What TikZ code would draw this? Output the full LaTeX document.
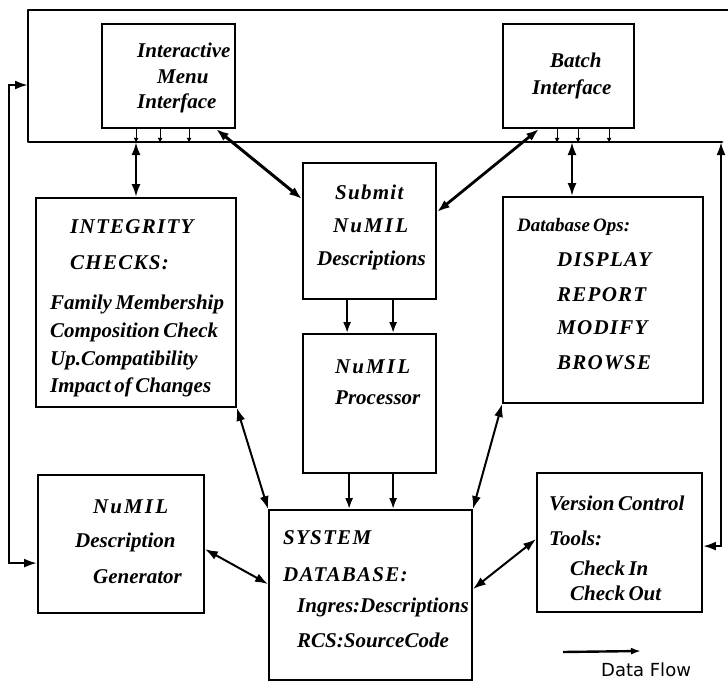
\documentclass[tikz,border=0pt]{standalone}
\usepackage{fontspec}
\setmainfont{Liberation Serif}
\newfontfamily\handfont{DejaVu Sans}
\usetikzlibrary{arrows.meta,calc}

\begin{document}
\begin{tikzpicture}[x=1pt,y=-1pt,
  box/.style={draw, line width=1.8pt, inner sep=0pt},
  txt/.style={font=\fontsize{21}{23}\selectfont\bfseries\itshape, anchor=west, inner sep=0pt},
  caps/.style={txt, font=\fontsize{21}{23}\selectfont\bfseries\itshape\addfontfeature{LetterSpace=6}},
  wide/.style={txt, font=\fontsize{21}{23}\selectfont\bfseries\itshape\addfontfeature{LetterSpace=10}},
  small/.style={txt, font=\fontsize{19}{21}\selectfont\bfseries\itshape},
  flow/.style={line width=2.4pt, {Latex[length=13pt,width=9pt]}-{Latex[length=13pt,width=9pt]}},
  oneway/.style={line width=2pt, -{Latex[length=11pt,width=8pt]}},
  tick/.style={line width=1.2pt, -{Latex[length=5pt,width=5pt]}},
  frameline/.style={line width=2.8pt, line cap=round, line join=round}
]
\useasboundingbox (0,0) rectangle (728,682);
\fill[white] (0,0) rectangle (728,682);

% the user-interface layer
\coordinate (ftr) at (728,10);
\coordinate (ftl) at (28,10);
\coordinate (fbl) at (28,142);
\coordinate (fbr) at (722,142);
\draw[frameline] (ftr) -- (ftl) -- (fbl) -- (fbr);

% boxes
\node[box, minimum width=133pt, minimum height=104pt] (imi)    at (168.5,76)  {};
\node[box, minimum width=131pt, minimum height=104pt] (batch)  at (568.5,76)  {};
\node[box, minimum width=200pt, minimum height=209pt] (integ)  at (136,302.5) {};
\node[box, minimum width=133pt, minimum height=136pt] (submit) at (369.5,231) {};
\node[box, minimum width=133pt, minimum height=139pt] (proc)   at (369.5,403.5) {};
\node[box, minimum width=200pt, minimum height=206pt] (dbops)  at (603,300) {};
\node[box, minimum width=166pt, minimum height=138pt] (gen)    at (121,544) {};
\node[box, minimum width=203pt, minimum height=170pt] (sysdb)  at (370.5,595) {};
\node[box, minimum width=165pt, minimum height=139pt] (vc)     at (619.5,542.5) {};

% box texts
\node[txt] (imi1) at (137,50)  {Interactive};
\node[txt] (imi2) at (157,77)  {Menu};
\node[txt] (imi3) at (137,103) {Interface};

\node[txt] (bat1) at (550,60) {Batch};
\node[txt] (bat2) at (532,89) {Interface};

\node[caps] (int1) at (70,227) {INTEGRITY};
\node[caps] (int2) at (70,263) {CHECKS:};
\node[txt] (int3) at (50,304) {Family\,Membership};
\node[txt] (int4) at (50,332) {Composition\,Check};
\node[txt] (int5) at (50,360) {Up.Compatibility};
\node[txt] (int6) at (50,387) {Impact\,of\,Changes};

\node[caps] (sub1) at (335,192) {Submit};
\node[wide] (sub2) at (333,226) {NuMIL};
\node[txt] (sub3) at (317,260) {Descriptions};

\node[wide] (pro1) at (335,367) {NuMIL};
\node[txt] (pro2) at (335,398) {Processor};

\node[small] (dbo1) at (517,227) {Database\,Ops:};
\node[caps] (dbo2) at (557,260) {DISPLAY};
\node[caps] (dbo3) at (557,295) {REPORT};
\node[caps] (dbo4) at (557,328) {MODIFY};
\node[caps] (dbo5) at (557,363) {BROWSE};

\node[wide] (gen1) at (93,507) {NuMIL};
\node[txt] (gen2) at (75,542) {Description};
\node[txt] (gen3) at (93,577) {Generator};

\node[caps] (sys1) at (283,538) {SYSTEM};
\node[caps] (sys2) at (283,575) {DATABASE:};
\node[txt] (sys3) at (297,607) {Ingres:Descriptions};
\node[txt] (sys4) at (297,640) {RCS:SourceCode};

\node[txt] (ver1) at (549,503) {Version\,Control};
\node[txt] (ver2) at (549,538) {Tools:};
\node[txt] (ver3) at (570,568) {Check\,In};
\node[txt] (ver4) at (570,593) {Check\,Out};

% interface outputs onto the layer
\foreach \dx in {35,59,88}
  \draw[tick] ($(imi.south west)+(\dx,0)$) -- ($(imi.south west)+(\dx,14)$);
\foreach \dx in {55,76,107}
  \draw[tick] ($(batch.south west)+(\dx,0)$) -- ($(batch.south west)+(\dx,14)$);

% layer to checks and database operations
\coordinate (fA) at (integ.north |- fbl);
\draw[flow] (fA) -- (integ.north);
\coordinate (fB) at (572,142);
\draw[flow] (fB) -- (fB |- dbops.north);

% interfaces to submission
\draw[flow, line width=3pt] ($(imi.south east)+(-20,0)$) -- ($(submit.north west)+(0,37)$);
\draw[flow, line width=2.8pt] ($(batch.south west)+(37,0)$) -- ($(submit.north east)+(0,50)$);

% submission -> processor -> database
\foreach \dx in {45,91}
  \draw[oneway] ($(submit.south west)+(\dx,0)$) -- ($(proc.north west)+(\dx,0)$);
\foreach \dx in {47,91}
  \draw[oneway] ($(proc.south west)+(\dx,0)$) -- ($(sysdb.north west)+(\dx+34,0)$);

% database links
\draw[flow, line width=2pt] (integ.south east) -- (sysdb.north west);
\draw[flow, line width=2pt] (dbops.south west) -- (sysdb.north east);
\draw[flow, line width=2pt] ($(gen.north east)+(0,75)$) -- ($(sysdb.north west)+(0,75)$);
\draw[flow, line width=2pt] ($(sysdb.north east)+(0,80)$) -- ($(vc.north west)+(0,67)$);

% feedback loops to the interface layer
\coordinate (fL) at (28,85);
\draw[flow] (fL) -- ++(-19,0) |- ($(gen.north west)+(0,89)$);
\coordinate (fR) at (721,142);
\draw[flow] (fR) |- ($(vc.north east)+(0,74)$);

% legend
\coordinate (lg1) at (563,652);
\coordinate (lg2) at (641,651);
\draw[line width=2.4pt, -{Latex[length=10pt,width=7pt]}] (lg1) -- (lg2);
\node[font=\handfont\fontsize{18}{20}\selectfont, anchor=west, inner sep=0pt] (lgt) at (601,670) {Data Flow};

\end{tikzpicture}
\end{document}
